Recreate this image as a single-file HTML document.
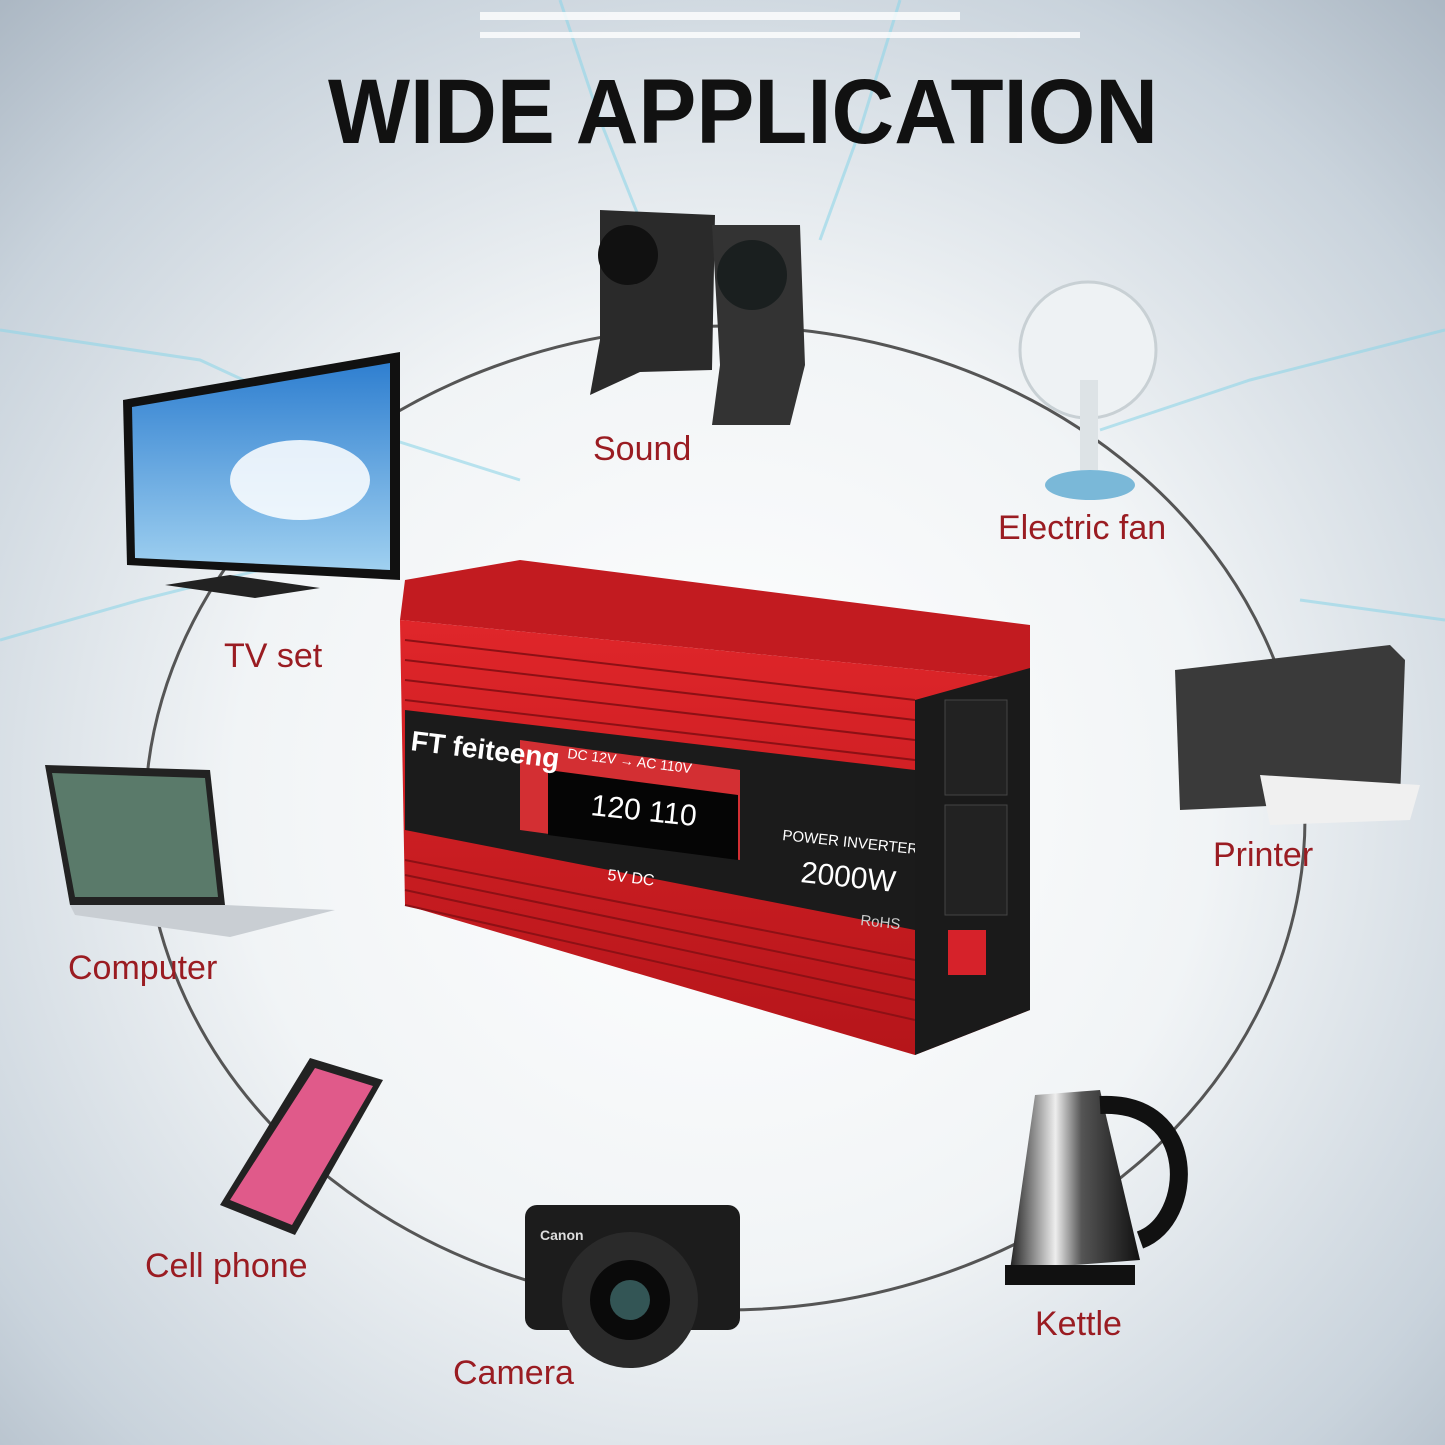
<!DOCTYPE html>
<html><head><meta charset="utf-8"><style>
html,body{margin:0;padding:0;width:1445px;height:1445px;overflow:hidden;background:#dfe5ea}
svg{display:block}
text{font-family:"Liberation Sans",sans-serif}
</style></head><body>
<svg width="1445" height="1445" viewBox="0 0 1445 1445" xmlns="http://www.w3.org/2000/svg">
<defs>
<radialGradient id="bg" cx="0.5" cy="0.55" r="0.75">
<stop offset="0" stop-color="#ffffff"/><stop offset="0.45" stop-color="#f1f4f6"/><stop offset="0.8" stop-color="#c9d3dc"/><stop offset="1" stop-color="#aab6c2"/>
</radialGradient>
<linearGradient id="red" x1="0" y1="0" x2="0" y2="1"><stop offset="0" stop-color="#e0262a"/><stop offset="1" stop-color="#b5151a"/></linearGradient>
<linearGradient id="sky" x1="0" y1="0" x2="0" y2="1"><stop offset="0" stop-color="#2f7fd0"/><stop offset="1" stop-color="#9fd0f0"/></linearGradient>
<linearGradient id="steel" x1="0" x2="1"><stop offset="0" stop-color="#222"/><stop offset="0.35" stop-color="#eee"/><stop offset="0.55" stop-color="#555"/><stop offset="1" stop-color="#111"/></linearGradient>
</defs>
<rect width="1445" height="1445" fill="url(#bg)"/>
<g stroke="#8fd6e8" stroke-width="3" fill="none" opacity="0.6">
<path d="M0 330 L200 360 L330 420 L520 480"/><path d="M1445 330 L1250 380 L1100 430"/>
<path d="M560 0 L600 120 L640 220"/><path d="M900 0 L860 130 L820 240"/>
<path d="M0 640 L140 600 L300 560"/><path d="M1445 620 L1300 600"/>
</g>
<g fill="#fff" opacity="0.8">
<rect x="480" y="12" width="480" height="8"/><rect x="480" y="32" width="600" height="6"/>
</g>
<text x="328" y="143" font-size="92" font-weight="bold" fill="#111" textLength="830" lengthAdjust="spacingAndGlyphs">WIDE APPLICATION</text>
<ellipse cx="725" cy="818" rx="580" ry="492" fill="none" stroke="#555" stroke-width="3"/>
<path d="M600 210 L715 215 L712 370 L640 372 L590 395 L600 340 Z" fill="#2a2a2a"/>
<circle cx="628" cy="255" r="30" fill="#111"/>
<path d="M712 225 L800 225 L805 365 L790 425 L712 425 L720 365 Z" fill="#333"/>
<circle cx="752" cy="275" r="35" fill="#1a1f1f"/>
<circle cx="1088" cy="350" r="68" fill="#eef2f4" stroke="#c8d0d4" stroke-width="3"/>
<rect x="1080" y="380" width="18" height="90" fill="#dde3e6"/>
<ellipse cx="1090" cy="485" rx="45" ry="15" fill="#7ab8d8"/>
<path d="M123 400 L400 352 L400 580 L127 565 Z" fill="#111"/>
<path d="M132 407 L390 363 L390 570 L135 558 Z" fill="url(#sky)"/>
<ellipse cx="300" cy="480" rx="70" ry="40" fill="#fff" opacity="0.85"/>
<path d="M165 585 L230 575 L320 588 L255 598 Z" fill="#222"/>
<path d="M45 765 L210 770 L225 905 L70 905 Z" fill="#222"/>
<path d="M52 773 L205 778 L218 897 L75 897 Z" fill="#5a7a6a"/>
<path d="M70 905 L225 905 L335 910 L230 937 L75 915 Z" fill="#c9ced3"/>
<path d="M310 1058 L383 1080 L295 1235 L220 1205 Z" fill="#222"/>
<path d="M315 1068 L373 1086 L292 1225 L230 1200 Z" fill="#e05a8a"/>
<rect x="525" y="1205" width="215" height="125" rx="12" fill="#1c1c1c"/>
<circle cx="630" cy="1300" r="68" fill="#2a2a2a"/><circle cx="630" cy="1300" r="40" fill="#0a0a0a"/>
<circle cx="630" cy="1300" r="20" fill="#355"/>
<text x="540" y="1240" font-size="14" fill="#ddd" font-weight="bold">Canon</text>
<path d="M1175 670 L1390 645 L1405 660 L1400 800 L1180 810 Z" fill="#3a3a3a"/>
<path d="M1260 775 L1420 785 L1410 820 L1270 825 Z" fill="#f0f0f0"/>
<path d="M1035 1095 L1100 1090 L1140 1260 L1010 1270 Z" fill="url(#steel)"/>
<path d="M1100 1105 C1200 1100 1195 1220 1140 1240" fill="none" stroke="#111" stroke-width="18"/>
<rect x="1005" y="1265" width="130" height="20" fill="#111"/>
<path d="M520 560 L1030 625 L1030 680 L400 620 L405 580 Z" fill="#c21b20"/>
<path d="M400 620 L1030 680 L1030 1010 L915 1055 L405 905 Z" fill="url(#red)"/>
<g stroke="#8d1015" stroke-width="2">
<line x1="405" y1="640" x2="915" y2="700"/><line x1="405" y1="660" x2="915" y2="720"/><line x1="405" y1="680" x2="915" y2="740"/><line x1="405" y1="700" x2="915" y2="760"/>
<line x1="405" y1="860" x2="915" y2="960"/><line x1="405" y1="875" x2="915" y2="980"/><line x1="405" y1="890" x2="915" y2="1000"/><line x1="405" y1="905" x2="915" y2="1020"/>
</g>
<path d="M405 710 L915 770 L915 930 L405 830 Z" fill="#1b1b1b"/>
<path d="M520 740 L740 770 L740 860 L520 830 Z" fill="#e83236" opacity="0.9"/>
<path d="M548 770 L738 795 L738 860 L548 835 Z" fill="#050505"/>
<text x="590" y="815" font-size="30" fill="#fff" transform="rotate(6 590 815)">120 110</text>
<text x="410" y="750" font-size="28" fill="#fff" font-weight="bold" transform="rotate(7 410 750)">FT feiteeng</text>
<text x="567" y="758" font-size="14" fill="#fff" transform="rotate(7 567 758)">DC 12V → AC 110V</text>
<text x="607" y="880" font-size="16" fill="#fff" transform="rotate(7 607 880)">5V DC</text>
<text x="782" y="840" font-size="15" fill="#fff" transform="rotate(6 782 840)">POWER INVERTER</text>
<text x="800" y="882" font-size="30" fill="#fff" transform="rotate(6 800 882)">2000W</text>
<text x="860" y="925" font-size="15" fill="#ccc" transform="rotate(6 860 925)">RoHS</text>
<path d="M915 700 L1030 668 L1030 1010 L915 1055 Z" fill="#1a1a1a"/>
<rect x="945" y="700" width="62" height="95" fill="#222" stroke="#444"/>
<rect x="945" y="805" width="62" height="110" fill="#222" stroke="#444"/>
<rect x="948" y="930" width="38" height="45" fill="#d6222a"/>
<g font-size="34" fill="#9a1c22">
<text x="593" y="460">Sound</text>
<text x="998" y="539">Electric fan</text>
<text x="224" y="667">TV set</text>
<text x="1213" y="866">Printer</text>
<text x="68" y="979">Computer</text>
<text x="145" y="1277">Cell phone</text>
<text x="453" y="1384">Camera</text>
<text x="1035" y="1335">Kettle</text>
</g>
</svg>
</body></html>
